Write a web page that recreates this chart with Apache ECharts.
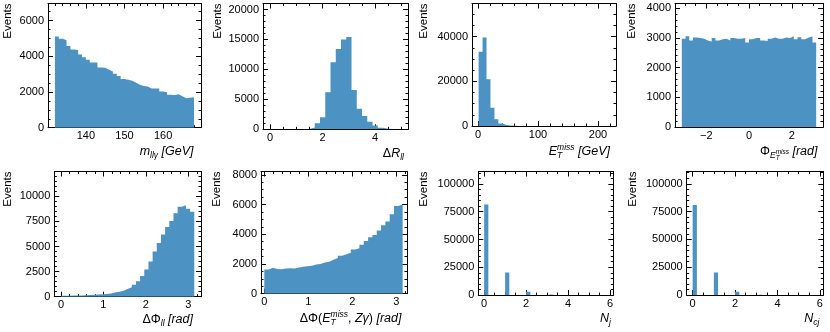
<!DOCTYPE html>
<html><head><meta charset="utf-8">
<script src="https://cdn.jsdelivr.net/npm/echarts@6/dist/echarts.min.js"></script>
<style>html,body{margin:0;padding:0;background:#fff}#c{width:830px;height:332px}</style>
</head><body><div id="c"></div>
<script>
// ---------------- data (bin counts) ----------------
const mllgStart = 132, mllgWidth = 1;
const mllgCounts = [5100, 4980, 4890, 4575, 4370, 4350, 4090, 3945, 3800, 3650, 3650, 3370, 3350, 3240, 3150, 3020, 2890, 2720, 2690, 2630, 2520, 2410, 2330, 2300, 2200, 2190, 2190, 2020, 1980, 1850, 1830, 1870, 1760, 1650, 1670, 1700];

const dRllStart = 0.1, dRllWidth = 0.2;
const dRllCounts = [0, 0, 0, 0, 0, 10, 60, 300, 1000, 2000, 6200, 11200, 13400, 15000, 15400, 6550, 3450, 2200, 1250, 630, 250, 90, 30, 10, 4];

const metStart = 1, metWidth = 6.6;
const metCounts = [33300, 39700, 21000, 8200, 3000, 1100, 420, 170, 70, 30, 14, 7, 4, 2, 1, 1, 0, 0, 0, 0, 0, 0, 0, 0, 0, 0, 0, 0, 0, 0, 0, 0, 1];

const phiStart = -Math.PI, phiWidth = 2 * Math.PI / 36;
const phiCounts = [2970, 3050, 2910, 3010, 2990, 2970, 2910, 2880, 2990, 2910, 2950, 2970, 2910, 2990, 2970, 2970, 2990, 2840, 2950, 2990, 2990, 2910, 2890, 2970, 3010, 2970, 2970, 3010, 2990, 3050, 2950, 3020, 2950, 3010, 3040, 2840];

const dPhiLLStart = 0, dPhiLLWidth = Math.PI / 32;
const dPhiLLCounts = [100, 100, 110, 120, 130, 150, 170, 190, 210, 240, 280, 330, 420, 500, 600, 760, 930, 1200, 1550, 2050, 2700, 3500, 4500, 5350, 6200, 6950, 7550, 8300, 8950, 9100, 8750, 8450];

const dPhiMetStart = 0, dPhiMetWidth = Math.PI / 32;
const dPhiMetCounts = [1620, 1740, 1660, 1650, 1700, 1720, 1690, 1760, 1820, 1850, 1880, 1960, 2000, 2100, 2150, 2280, 2400, 2560, 2650, 2760, 2980, 3050, 3300, 3550, 3800, 3950, 4250, 4600, 4850, 5350, 5900, 6000];

const njStart = 0, njWidth = 0.2;
const njCounts = [81500, 0, 0, 0, 0, 20300, 0, 0, 0, 0, 2900, 0, 0, 0, 0, 400, 0, 0, 0, 0, 40, 0, 0, 0, 0, 5, 0, 0, 0, 0];

const ncjStart = 0, ncjWidth = 0.2;
const ncjCounts = [81000, 0, 0, 0, 0, 20300, 0, 0, 0, 0, 3000, 0, 0, 0, 0, 300, 0, 0, 0, 0, 30, 0, 0, 0, 0, 3, 0, 0, 0, 0];

const yTitle = 'Events';

// ---------------- layout / styling ----------------
const FONT = '"Liberation Sans", Arial, Helvetica, sans-serif';
const FILL = '#4c92c3';
const LS = 12.5, SS = 8.5, SSS = 6.5;
const ctx = document.createElement('canvas').getContext('2d');
function fstr(it, s) { return (it ? 'italic ' : '') + s + 'px ' + FONT; }
function meas(t, it, s) { ctx.font = fstr(it, s); return ctx.measureText(t).width; }

const M = (t, it) => ({ t, it: !!it, s: LS, dy: 0 });
const SUB = (t, it) => ({ t, it: !!it, s: SS, dy: 3.5 });
const MT = (sz, up, dn) => ({ stack: [{ t: 'miss', it: true, s: sz, dy: up }, { t: 'T', it: true, s: sz, dy: dn }] });

const panels = [
  { box: [48, 3.5, 201, 127.7], xr: [130.2, 169.8], xi: 10, xm: 5, yr: [0, 6950], yi: 2000, ym: 4,
    start: mllgStart, width: mllgWidth, counts: mllgCounts, evx: 7.5, xly: 152, xlr: 7.5,
    xl: [M('m', 1), SUB('llγ', 1), M(' [GeV]', 1)] },
  { box: [263, 3.5, 408, 129.3], xr: [-0.27, 5.25], xi: 2, xm: 4, yr: [0, 21000], yi: 5000, ym: 5,
    start: dRllStart, width: dRllWidth, counts: dRllCounts, evx: 217.5, xly: 154, xlr: 4,
    xl: [M('Δ'), M('R', 1), SUB('ll', 1)] },
  { box: [472, 3.5, 616, 126], xr: [-10, 230], xi: 100, xm: 5, yr: [0, 54900], yi: 20000, ym: 4,
    start: metStart, width: metWidth, counts: metCounts, evx: 424, xly: 152, xlr: 6,
    xl: [M('E', 1), MT(SS, -4.5, 3.5), M(' [GeV]', 1)] },
  { box: [675, 3.5, 823, 127.3], xr: [-3.46, 3.46], xi: 2, xm: 4, yr: [0, 4150], yi: 1000, ym: 5,
    start: phiStart, width: phiWidth, counts: phiCounts, evx: 632, xly: 152, xlr: 5.5,
    xl: [M('Φ'), { t: 'E', it: true, s: SS, dy: 3.5 }, MT(SSS, 0, 6), M(' [rad]', 1)] },
  { box: [54.3, 171.5, 201, 296.7], xr: [-0.157, 3.3], xi: 1, xm: 5, yr: [0, 12470], yi: 2500, ym: 5,
    start: dPhiLLStart, width: dPhiLLWidth, counts: dPhiLLCounts, evx: 7.5, xly: 320, xlr: 8,
    xl: [M('ΔΦ'), SUB('ll', 1), M(' [rad]', 1)] },
  { box: [261, 171.5, 407, 293.7], xr: [-0.075, 3.24], xi: 1, xm: 5, yr: [0, 8220], yi: 2000, ym: 4,
    start: dPhiMetStart, width: dPhiMetWidth, counts: dPhiMetCounts, evx: 216.5, xly: 319, xlr: 5.5,
    xl: [M('ΔΦ('), M('E', 1), MT(SS, -4.5, 3.5), M(', '), M('Zγ', 1), M(')'), M(' [rad]', 1)] },
  { box: [478.3, 171.5, 613.3, 295], xr: [-0.28, 6.16], xi: 2, xm: 4, yr: [0, 111200], yi: 25000, ym: 5,
    start: njStart, width: njWidth, counts: njCounts, evx: 424, xly: 319, xlr: 2.5,
    xl: [M('N', 1), SUB('j', 1)] },
  { box: [686.7, 171.5, 823.3, 295], xr: [-0.28, 6.16], xi: 2, xm: 4, yr: [0, 111100], yi: 25000, ym: 5,
    start: ncjStart, width: ncjWidth, counts: ncjCounts, evx: 632.5, xly: 319, xlr: 4,
    xl: [M('N', 1), SUB('cj', 1)] }
];

function stepData(start, width, counts) {
  const d = counts.map((c, i) => [start + i * width, c]);
  d.push([start + counts.length * width, counts[counts.length - 1]]);
  return d;
}
function isMult(v, iv) { return Math.abs(v / iv - Math.round(v / iv)) < 1e-6; }
function fmtNum(v) { const r = Math.round(v * 1e6) / 1e6; return (r < 0 ? '\u2212' : '') + Math.abs(r); }

function buildLabel(segs, right, yc) {
  const widths = segs.map(sg => sg.stack ? Math.max(...sg.stack.map(q => meas(q.t, q.it, q.s))) : meas(sg.t, sg.it, sg.s));
  const total = widths.reduce((a, b) => a + b, 0);
  let x = right - total;
  const els = [];
  segs.forEach((sg, i) => {
    (sg.stack || [sg]).forEach(q => els.push({
      type: 'text', x: x, y: yc + (q.dy || 0), silent: true,
      style: { text: q.t, font: fstr(q.it, q.s), fill: '#000', align: 'left', textAlign: 'left', verticalAlign: 'middle', textVerticalAlign: 'middle' }
    }));
    x += widths[i];
  });
  return els;
}

const tickLine = { color: '#000', width: 1 };
function axisCommon(min, max, iv, minor, showLabel, margin) {
  return {
    type: 'value', min: min, max: max, minInterval: iv, maxInterval: iv, splitNumber: 5, scale: true,
    axisLine: { show: true, onZero: false, lineStyle: { color: '#000', width: 1 } },
    axisTick: { show: true, inside: true, length: 5, lineStyle: tickLine },
    minorTick: { show: true, splitNumber: minor, length: 2.5, lineStyle: tickLine },
    splitLine: { show: false }, minorSplitLine: { show: false },
    axisLabel: { show: showLabel, margin: margin, fontSize: 11, color: '#000', fontFamily: FONT, hideOverlap: false,
      formatter: v => isMult(v, iv) ? fmtNum(v) : '' }
  };
}

const grid = [], xAxis = [], yAxis = [], series = [], graphic = [];
panels.forEach((p, k) => {
  const [l, t, r, b] = p.box;
  grid.push({ left: l, top: t, width: r - l, height: b - t, containLabel: false });
  xAxis.push(Object.assign(axisCommon(p.xr[0], p.xr[1], p.xi, p.xm, true, 3), { gridIndex: k, position: 'bottom' }));
  xAxis.push(Object.assign(axisCommon(p.xr[0], p.xr[1], p.xi, p.xm, false, 3), { gridIndex: k, position: 'top' }));
  yAxis.push(Object.assign(axisCommon(p.yr[0], p.yr[1], p.yi, p.ym, true, 4), { gridIndex: k, position: 'left' }));
  yAxis.push(Object.assign(axisCommon(p.yr[0], p.yr[1], p.yi, p.ym, false, 4), { gridIndex: k, position: 'right' }));
  series.push({
    type: 'line', xAxisIndex: 2 * k, yAxisIndex: 2 * k, step: 'end', symbol: 'none', showSymbol: false,
    data: stepData(p.start, p.width, p.counts), silent: true, z: 1,
    lineStyle: { width: 0, color: FILL }, areaStyle: { color: FILL, opacity: 1, origin: 'start' }
  });
  graphic.push({
    type: 'text', x: p.evx, y: t, rotation: Math.PI / 2, silent: true,
    style: { text: yTitle, font: '11.5px ' + FONT, fill: '#000', align: 'right', textAlign: 'right', verticalAlign: 'middle', textVerticalAlign: 'middle' }
  });
  buildLabel(p.xl, r - p.xlr, p.xly).forEach(e => graphic.push(e));
});

const chart = echarts.init(document.getElementById('c'), null, { renderer: 'canvas' });
chart.setOption({ animation: false, backgroundColor: '#fff', grid, xAxis, yAxis, series, graphic });
</script></body></html>
